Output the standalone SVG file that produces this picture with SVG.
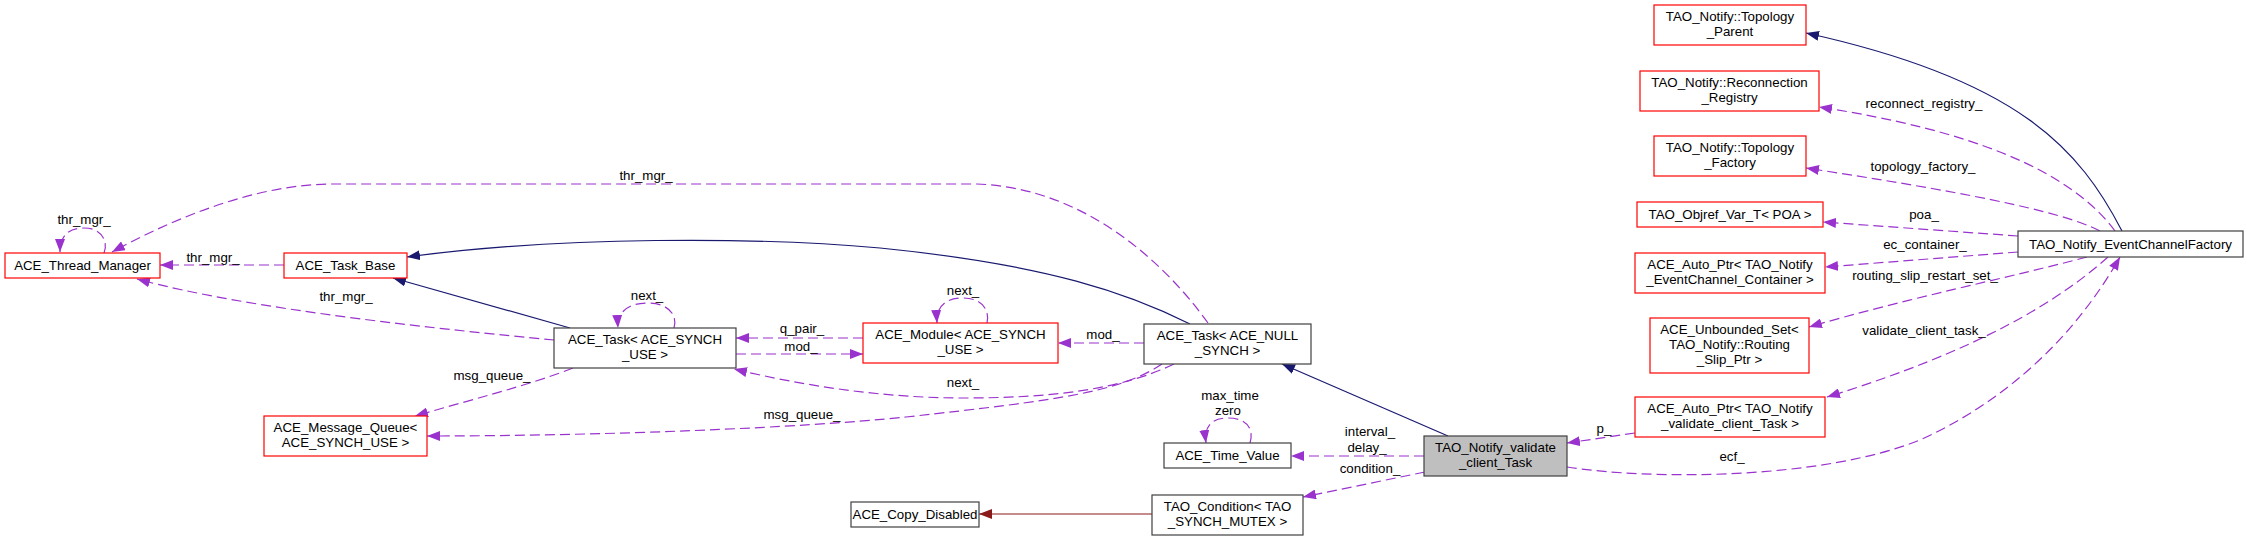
<svg xmlns="http://www.w3.org/2000/svg" width="2248" height="540" viewBox="0 0 2248 540">
<style>
text{font-family:"Liberation Sans",Arial,sans-serif;font-size:13.3px;fill:#000;text-anchor:middle}
.red{fill:#fff;stroke:#ff0000;stroke-width:1.2}
.blk{fill:#fff;stroke:#404040;stroke-width:1.2}
.cur{fill:#bfbfbf;stroke:#404040;stroke-width:1.2}
.e{fill:none;stroke:#9a32cd;stroke-width:1.2;stroke-dasharray:10,5;marker-end:url(#ap)}
.g{fill:none;stroke:#191970;stroke-width:1.2;marker-end:url(#an)}
.d{fill:none;stroke:#8b1a1a;stroke-width:1.2;marker-end:url(#ad)}
</style>
<defs>
<marker id="ap" viewBox="0 0 13 10" refX="13" refY="5" markerWidth="13" markerHeight="10" markerUnits="userSpaceOnUse" orient="auto"><path d="M0,0L13,5L0,10z" fill="#9a32cd"/></marker>
<marker id="an" viewBox="0 0 13 10" refX="13" refY="5" markerWidth="13" markerHeight="10" markerUnits="userSpaceOnUse" orient="auto"><path d="M0,0L13,5L0,10z" fill="#191970"/></marker>
<marker id="ad" viewBox="0 0 13 10" refX="13" refY="5" markerWidth="13" markerHeight="10" markerUnits="userSpaceOnUse" orient="auto"><path d="M0,0L13,5L0,10z" fill="#8b1a1a"/></marker>
</defs>
<rect width="2248" height="540" fill="#fff"/>
<g id="edges">
<path class="e" d="M104,253 C108,244 104,228 84,228 C68,228 60,236 60,252"/>
<text x="84" y="224">thr_mgr_</text>
<path class="e" d="M284,265 L160,265"/>
<text x="213" y="262">thr_mgr_</text>
<path class="e" d="M554,340 C450,330 250,310 137,279"/>
<text x="346" y="301">thr_mgr_</text>
<path class="e" d="M1208,323 C1170,270 1090,188 977,184 L333,184 C260,184 180,215 112,252"/>
<text x="646" y="180">thr_mgr_</text>
<path class="e" d="M674,328 C678,315 668,303 648,303 C628,303 617,312 618,328"/>
<text x="647" y="300">next_</text>
<path class="g" d="M570,328 L393,278"/>
<path class="g" d="M1190,324 C1130,294 1050,265 880,248 C760,237 560,236 407,257"/>
<path class="e" d="M863,338 L736,338"/>
<text x="802" y="333">q_pair_</text>
<path class="e" d="M736,354 L863,354"/>
<text x="801" y="351">mod_</text>
<path class="e" d="M987,323 C990,310 982,298 963,298 C944,298 936,308 937,323"/>
<text x="963" y="295">next_</text>
<path class="e" d="M1144,343 L1058,343"/>
<text x="1103" y="339">mod_</text>
<path class="e" d="M573,368 C530,385 470,400 415,416"/>
<text x="492" y="380">msg_queue_</text>
<path class="e" d="M1174,364 C1120,390 1050,398 964,398 C880,398 800,385 734,369"/>
<text x="963" y="387">next_</text>
<path class="e" d="M1162,364 C1120,392 1060,400 906,417 C800,428 600,436 427,436"/>
<text x="802" y="419">msg_queue_</text>
<path class="g" d="M1448,436 L1282,364"/>
<path class="e" d="M1424,456 L1291,456"/>
<text x="1370" y="436">interval_</text>
<text x="1367" y="452">delay_</text>
<path class="e" d="M1425,472 L1303,497"/>
<text x="1370" y="473">condition_</text>
<path class="d" d="M1152,514 L979,514"/>
<path class="e" d="M1250,443 C1254,430 1248,418 1228,418 C1210,418 1204,428 1206,443"/>
<text x="1230" y="400">max_time</text>
<text x="1228" y="415">zero</text>
<path class="e" d="M1635,433 L1567,443"/>
<text x="1604" y="433">p_</text>
<path class="e" d="M1567,467 C1650,480 1820,480 1920,440 C2030,390 2090,310 2120,257"/>
<text x="1732" y="461">ecf_</text>
<path class="e" d="M2108,257 C2060,300 1980,350 1827,397"/>
<text x="1924" y="335">validate_client_task_</text>
<path class="e" d="M2087,257 C2020,275 1900,300 1809,327"/>
<text x="1925" y="280">routing_slip_restart_set_</text>
<path class="e" d="M2018,252 L1825,267"/>
<text x="1925" y="249">ec_container_</text>
<path class="e" d="M2018,236 L1823,222"/>
<text x="1924" y="219">poa_</text>
<path class="e" d="M2100,231 C2060,210 1950,190 1806,168"/>
<text x="1923" y="171">topology_factory_</text>
<path class="e" d="M2115,231 C2070,170 1970,130 1819,107"/>
<text x="1924" y="108">reconnect_registry_</text>
<path class="g" d="M2122,231 C2080,150 2020,80 1806,33"/>
</g>
<g id="n_thread_manager"><rect class="red" x="5" y="253" width="155" height="25"/><text x="82.5" y="270">ACE_Thread_Manager</text></g>
<g id="n_task_base"><rect class="red" x="284" y="253" width="123" height="25"/><text x="345.5" y="270">ACE_Task_Base</text></g>
<g id="n_message_queue"><rect class="red" x="264" y="416" width="163" height="40"/><text x="345.5" y="432">ACE_Message_Queue&lt;</text><text x="345.5" y="447">ACE_SYNCH_USE &gt;</text></g>
<g id="n_task_synch"><rect class="blk" x="554" y="328" width="182" height="40"/><text x="645" y="344">ACE_Task&lt; ACE_SYNCH</text><text x="645" y="359">_USE &gt;</text></g>
<g id="n_module"><rect class="red" x="863" y="323" width="195" height="40"/><text x="960.5" y="339">ACE_Module&lt; ACE_SYNCH</text><text x="960.5" y="354">_USE &gt;</text></g>
<g id="n_task_null"><rect class="blk" x="1144" y="324" width="167" height="40"/><text x="1227.5" y="340">ACE_Task&lt; ACE_NULL</text><text x="1227.5" y="355">_SYNCH &gt;</text></g>
<g id="n_time_value"><rect class="blk" x="1164" y="443" width="127" height="25"/><text x="1227.5" y="460">ACE_Time_Value</text></g>
<g id="n_copy_disabled"><rect class="blk" x="851" y="502" width="128" height="25"/><text x="915" y="519">ACE_Copy_Disabled</text></g>
<g id="n_condition"><rect class="blk" x="1152" y="495" width="151" height="40"/><text x="1227.5" y="511">TAO_Condition&lt; TAO</text><text x="1227.5" y="526">_SYNCH_MUTEX &gt;</text></g>
<g id="n_validate_task"><rect class="cur" x="1424" y="436" width="143" height="40"/><text x="1495.5" y="452">TAO_Notify_validate</text><text x="1495.5" y="467">_client_Task</text></g>
<g id="n_topology_parent"><rect class="red" x="1654" y="5" width="152" height="40"/><text x="1730" y="21">TAO_Notify::Topology</text><text x="1730" y="36">_Parent</text></g>
<g id="n_reconnection_registry"><rect class="red" x="1640" y="71" width="179" height="40"/><text x="1729.5" y="87">TAO_Notify::Reconnection</text><text x="1729.5" y="102">_Registry</text></g>
<g id="n_topology_factory"><rect class="red" x="1654" y="136" width="152" height="40"/><text x="1730" y="152">TAO_Notify::Topology</text><text x="1730" y="167">_Factory</text></g>
<g id="n_objref_var"><rect class="red" x="1637" y="202" width="186" height="25"/><text x="1730" y="219">TAO_Objref_Var_T&lt; POA &gt;</text></g>
<g id="n_auto_ptr_ec"><rect class="red" x="1635" y="253" width="190" height="40"/><text x="1730" y="269">ACE_Auto_Ptr&lt; TAO_Notify</text><text x="1730" y="284">_EventChannel_Container &gt;</text></g>
<g id="n_unbounded_set"><rect class="red" x="1650" y="318" width="159" height="55"/><text x="1729.5" y="334">ACE_Unbounded_Set&lt;</text><text x="1729.5" y="349">TAO_Notify::Routing</text><text x="1729.5" y="364">_Slip_Ptr &gt;</text></g>
<g id="n_auto_ptr_validate"><rect class="red" x="1635" y="397" width="190" height="40"/><text x="1730" y="413">ACE_Auto_Ptr&lt; TAO_Notify</text><text x="1730" y="428">_validate_client_Task &gt;</text></g>
<g id="n_ecf"><rect class="blk" x="2018" y="231" width="225" height="26"/><text x="2130.5" y="248.5">TAO_Notify_EventChannelFactory</text></g>
</svg>
